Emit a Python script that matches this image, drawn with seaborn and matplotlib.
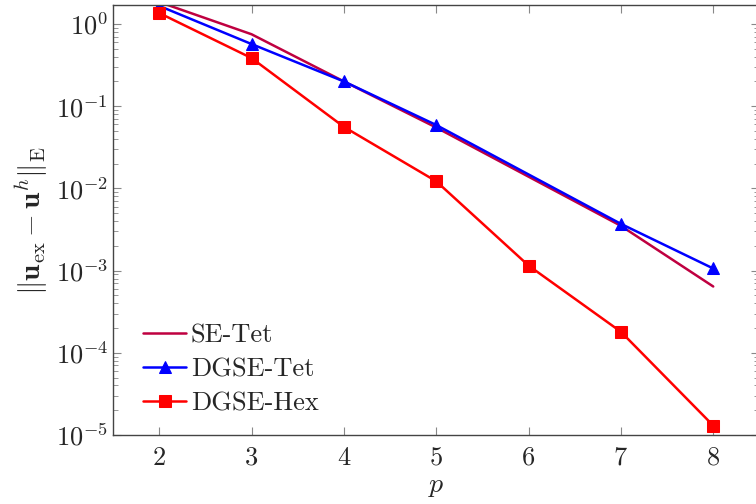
import numpy as np
import pandas as pd
import seaborn as sns
import matplotlib.pyplot as plt

p = [2, 3, 4, 5, 6, 7, 8]
p_tet = [2, 3, 4, 5, 7, 8]
se_tet = [1.85, 0.75, 0.20, 0.055, 0.0035, 0.00064]
dgse_tet = [1.66, 0.57, 0.20, 0.059, 0.0037, 0.00106]
dgse_hex = [1.36, 0.385, 0.056, 0.0122, 0.00115, 0.00018, 0.000013]

sns.set_style("ticks")
plt.rcParams["font.family"] = "serif"
plt.rcParams["font.serif"] = ["cmr10", "DejaVu Serif"]
plt.rcParams["mathtext.fontset"] = "cm"
plt.rcParams["axes.formatter.use_mathtext"] = True
plt.rcParams["axes.unicode_minus"] = False

fig = plt.figure(figsize=(7.56, 5.04), dpi=100)
ax = fig.add_axes([0.1495, 0.137, 0.855, 0.853])

sns.lineplot(x=p_tet, y=se_tet, ax=ax, color="#bf0040", lw=1.8, label="SE-Tet")
sns.lineplot(x=p_tet, y=dgse_tet, ax=ax, color="blue", lw=1.8, marker="^",
             markersize=9, markeredgecolor="blue", label="DGSE-Tet")
sns.lineplot(x=p, y=dgse_hex, ax=ax, color="red", lw=1.8, marker="s",
             markersize=9, markeredgecolor="red", label="DGSE-Hex")

ax.set_yscale("log")
ax.set_xlim(1.5, 8.5)
ax.set_ylim(1e-5, 1.7)
ax.set_xticks(p)
ax.set_yticks([1e-5, 1e-4, 1e-3, 1e-2, 1e-1, 1e0])
ax.tick_params(which="both", direction="in", top=True, right=True,
               labelsize=19, color="#888888")
ax.tick_params(which="major", length=6)
ax.tick_params(which="minor", length=3.5)
ax.tick_params(axis="x", which="minor", top=False, bottom=False)
ax.tick_params(axis="x", pad=8)
for s in ax.spines.values():
    s.set_color("#444444")
    s.set_linewidth(1.0)

ax.set_xlabel(r"$p$", fontsize=20, labelpad=2)
ax.set_ylabel(r"$\|\mathbf{u}_{\mathrm{ex}}-\mathbf{u}^h\|_{\mathrm{E}}$", fontsize=21)

ax.legend(loc="lower left", frameon=False, fontsize=19, handlelength=1.6,
          handletextpad=0.2, labelspacing=0.4, borderaxespad=0, borderpad=0,
          bbox_to_anchor=(0.047, 0.045))

fig.savefig("out.png", dpi=100)
